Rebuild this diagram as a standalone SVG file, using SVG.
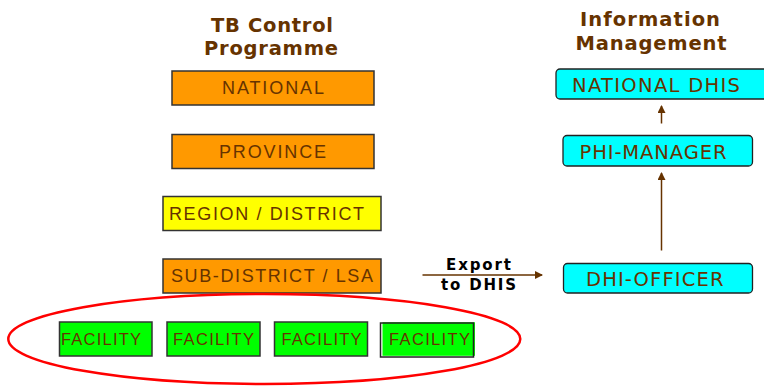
<svg xmlns="http://www.w3.org/2000/svg" width="764" height="386" viewBox="0 0 764 386">
<style>
.title{font-family:"DejaVu Sans",Verdana,sans-serif;font-weight:bold;font-size:19.5px;fill:#663300}
.lvl{font-family:"Liberation Sans",Arial,sans-serif;font-size:18px;fill:#663300}
.fac{font-family:"Liberation Sans",Arial,sans-serif;font-size:16.5px;fill:#663300}
.info{font-family:"DejaVu Sans",Tahoma,sans-serif;font-size:19.5px;fill:#663300}
.exp{font-family:"DejaVu Sans",Verdana,sans-serif;font-weight:bold;font-size:15px;fill:#000}
.orange{fill:#FF9900;stroke:#333;stroke-width:1.5}
.yellow{fill:#FFFF00;stroke:#333;stroke-width:1.5}
.green{fill:#00FF00;stroke:#333;stroke-width:1.5}
.cyan{fill:#00FFFF;stroke:#222;stroke-width:1.3}
.conn{stroke:#663300;stroke-width:1.5;fill:none}
</style>
<defs>
<marker id="ah" markerWidth="8" markerHeight="8" refX="7" refY="4" orient="auto" markerUnits="userSpaceOnUse">
<path d="M0,0 L8,4 L0,8 Z" fill="#663300"/>
</marker>
</defs>
<g id="titles">
<text class="title" x="272" y="32" text-anchor="middle" textLength="122">TB Control</text>
<text class="title" x="271" y="55" text-anchor="middle" textLength="134">Programme</text>
<text class="title" x="650" y="26" text-anchor="middle" textLength="140">Information</text>
<text class="title" x="651" y="50" text-anchor="middle" textLength="151">Management</text>
</g>
<g id="national">
<rect class="orange" x="172" y="71" width="202" height="34"/>
<text class="lvl" x="222" y="94" textLength="102">NATIONAL</text>
</g>
<g id="province">
<rect class="orange" x="172" y="134.5" width="202" height="34"/>
<text class="lvl" x="219" y="157.5" textLength="107">PROVINCE</text>
</g>
<g id="region">
<rect class="yellow" x="163" y="196.5" width="218" height="34"/>
<text class="lvl" x="169" y="219.5" textLength="195">REGION / DISTRICT</text>
</g>
<g id="subdistrict">
<rect class="orange" x="163" y="259" width="218" height="34"/>
<text class="lvl" x="171" y="281.5" textLength="202">SUB-DISTRICT / LSA</text>
</g>
<g id="facilities">
<ellipse cx="264.3" cy="339" rx="256" ry="45" fill="none" stroke="#FF0000" stroke-width="2.5"/>
</g>
<g id="facility1">
<rect class="green" x="59.5" y="322" width="92.5" height="34"/>
<text class="fac" x="61" y="344.5" textLength="80">FACILITY</text>
</g>
<g id="facility2">
<rect class="green" x="167" y="322" width="93" height="34"/>
<text class="fac" x="173" y="344.5" textLength="81">FACILITY</text>
</g>
<g id="facility3">
<rect class="green" x="274.5" y="322" width="93" height="34"/>
<text class="fac" x="281.5" y="344.5" textLength="80">FACILITY</text>
</g>
<g id="facility4">
<rect x="382.5" y="322.3" width="92.5" height="33.5" fill="#00FF00"/>
<rect x="380.5" y="323" width="93" height="34" fill="none" stroke="#222" stroke-width="1.5"/>
<text class="fac" x="389" y="345" textLength="81">FACILITY</text>
</g>
<g id="national-dhis">
<rect class="cyan" x="556" y="69" width="215" height="30" rx="4"/>
<text class="info" x="572" y="92" textLength="168">NATIONAL DHIS</text>
</g>
<g id="phi-manager">
<rect class="cyan" x="563" y="135.5" width="189.5" height="30.5" rx="4"/>
<text class="info" x="579.5" y="159" textLength="147">PHI-MANAGER</text>
</g>
<g id="dhi-officer">
<rect class="cyan" x="563.5" y="263.5" width="189" height="29.5" rx="4"/>
<text class="info" x="586" y="286" textLength="137.5">DHI-OFFICER</text>
</g>
<g id="connectors">
<line class="conn" x1="661.5" y1="250.5" x2="661.5" y2="173" marker-end="url(#ah)"/>
<line class="conn" x1="661.5" y1="123.5" x2="661.5" y2="106" marker-end="url(#ah)"/>
<line class="conn" x1="422.5" y1="275" x2="542" y2="275" marker-end="url(#ah)"/>
<text class="exp" x="446" y="269.5" textLength="65">Export</text>
<text class="exp" x="441" y="289.5" textLength="75">to DHIS</text>
</g>
</svg>
